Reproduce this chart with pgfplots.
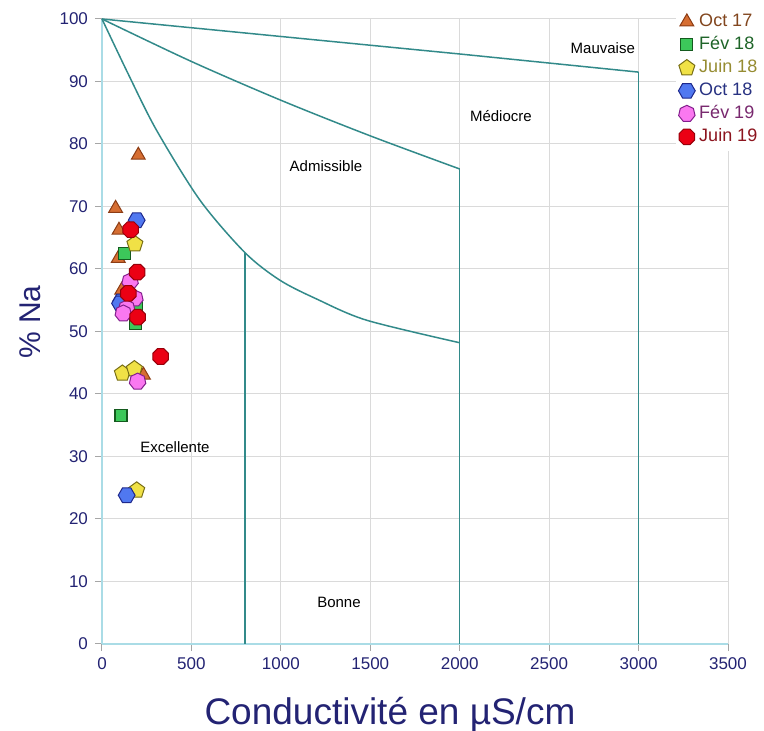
\documentclass[border=0pt]{standalone}
\usepackage{fontspec}
\setmainfont{Liberation Sans}
\usepackage{pgfplots}
\pgfplotsset{compat=1.18}

\definecolor{navy}{RGB}{35,35,115}
\definecolor{bord}{RGB}{50,138,138}
\definecolor{gridc}{RGB}{218,218,218}
\definecolor{axc}{RGB}{170,220,230}
\definecolor{oaF}{RGB}{214,110,50}  \definecolor{oaD}{RGB}{140,60,20}  \definecolor{oaT}{RGB}{130,70,30}
\definecolor{fbF}{RGB}{60,200,90}   \definecolor{fbD}{RGB}{20,90,30}   \definecolor{fbT}{RGB}{30,100,40}
\definecolor{jbF}{RGB}{240,225,70}  \definecolor{jbD}{RGB}{120,110,20} \definecolor{jbT}{RGB}{150,140,50}
\definecolor{obF}{RGB}{80,120,240}  \definecolor{obD}{RGB}{30,40,140}  \definecolor{obT}{RGB}{40,50,130}
\definecolor{fcF}{RGB}{250,120,240} \definecolor{fcD}{RGB}{130,30,140} \definecolor{fcT}{RGB}{120,40,110}
\definecolor{jcF}{RGB}{235,0,20}    \definecolor{jcD}{RGB}{150,0,10}   \definecolor{jcT}{RGB}{140,20,30}

% extra marks
\pgfdeclareplotmark{hexagon*}{%
  \pgfpathmoveto{\pgfpointpolar{0}{\pgfplotmarksize}}%
  \pgfpathlineto{\pgfpointpolar{60}{\pgfplotmarksize}}%
  \pgfpathlineto{\pgfpointpolar{120}{\pgfplotmarksize}}%
  \pgfpathlineto{\pgfpointpolar{180}{\pgfplotmarksize}}%
  \pgfpathlineto{\pgfpointpolar{240}{\pgfplotmarksize}}%
  \pgfpathlineto{\pgfpointpolar{300}{\pgfplotmarksize}}%
  \pgfpathclose\pgfusepathqfillstroke}
\pgfdeclareplotmark{heptagon*}{%
  \pgfpathmoveto{\pgfpointpolar{90}{\pgfplotmarksize}}%
  \pgfpathlineto{\pgfpointpolar{141.43}{\pgfplotmarksize}}%
  \pgfpathlineto{\pgfpointpolar{192.86}{\pgfplotmarksize}}%
  \pgfpathlineto{\pgfpointpolar{244.29}{\pgfplotmarksize}}%
  \pgfpathlineto{\pgfpointpolar{295.71}{\pgfplotmarksize}}%
  \pgfpathlineto{\pgfpointpolar{347.14}{\pgfplotmarksize}}%
  \pgfpathlineto{\pgfpointpolar{38.57}{\pgfplotmarksize}}%
  \pgfpathclose\pgfusepathqfillstroke}
\pgfdeclareplotmark{octagon*}{%
  \pgfpathmoveto{\pgfpointpolar{22.5}{\pgfplotmarksize}}%
  \pgfpathlineto{\pgfpointpolar{67.5}{\pgfplotmarksize}}%
  \pgfpathlineto{\pgfpointpolar{112.5}{\pgfplotmarksize}}%
  \pgfpathlineto{\pgfpointpolar{157.5}{\pgfplotmarksize}}%
  \pgfpathlineto{\pgfpointpolar{202.5}{\pgfplotmarksize}}%
  \pgfpathlineto{\pgfpointpolar{247.5}{\pgfplotmarksize}}%
  \pgfpathlineto{\pgfpointpolar{292.5}{\pgfplotmarksize}}%
  \pgfpathlineto{\pgfpointpolar{337.5}{\pgfplotmarksize}}%
  \pgfpathclose\pgfusepathqfillstroke}

\begin{document}
\begin{tikzpicture}
\useasboundingbox (-51pt,-43.5pt) rectangle (331pt,322pt);
\begin{axis}[
    scale only axis,
    width=313pt, height=312.5pt,
    xmin=0, xmax=3500, ymin=0, ymax=100,
    xtick={0,500,...,3500}, ytick={0,10,...,100},
    axis lines=left,
    axis line style={draw=axc, line width=0.8pt, -},
    grid=major,
    major grid style={draw=gridc, line width=0.5pt},
    tick align=outside,
    major tick length=3.5pt,
    tick style={draw=gray!70, line width=0.5pt},
    /pgf/number format/assume math mode=true,
    /pgf/number format/1000 sep={},
    ticklabel style={font=\fontsize{8.5}{10}\selectfont, text=navy},
    xlabel={Conductivité en µS/cm},
    ylabel={\% Na},
    xlabel style={font=\fontsize{18.5}{20}\selectfont, text=navy,
        at={(axis description cs:0.46,-0.1136)}, anchor=center},
    ylabel style={font=\fontsize{15}{17}\selectfont, text=navy,
        at={(axis description cs:-0.115,0.515)}, anchor=center},
    clip=false,
    legend style={at={(axis description cs:0.917,1.018)}, anchor=north west,
        draw=none, fill=white, font=\fontsize{9}{10.8}\selectfont,
        inner sep=1pt, row sep=-0.5pt},
    legend cell align=left,
]
% limites du diagramme
\addplot[bord, line width=0.75pt, smooth, forget plot] coordinates {
  (0,100)(150,91)(305,82.2)(548,71)(800,62.6)(995,58.2)(1200,55.2)(1480,51.8)(2000,48.2)};
\addplot[bord, line width=0.75pt, smooth, forget plot] coordinates {
  (0,100)(500,93.2)(1000,87)(1500,81.3)(2000,76)};
\addplot[bord, line width=0.75pt, forget plot] coordinates {
  (0,100)(1000,97.2)(2000,94.4)(3000,91.5)};
\addplot[bord, line width=0.75pt, forget plot] coordinates {(800,62.6)(800,0)};
\addplot[bord, line width=0.75pt, forget plot] coordinates {(2000,76)(2000,0)};
\addplot[bord, line width=0.75pt, forget plot] coordinates {(3000,91.5)(3000,0)};

\node[font=\fontsize{7.5}{9}\selectfont] at (axis cs:2800,95.4) {Mauvaise};
\node[font=\fontsize{7.5}{9}\selectfont] at (axis cs:2230,84.5) {Médiocre};
\node[font=\fontsize{7.5}{9}\selectfont] at (axis cs:1252,76.5) {Admissible};
\node[font=\fontsize{7.5}{9}\selectfont] at (axis cs:408,31.5) {Excellente};
\node[font=\fontsize{7.5}{9}\selectfont] at (axis cs:1325,6.6) {Bonne};

% Oct 17
\addplot[only marks, mark=triangle*, mark size=4pt, mark options={fill=oaF, draw=oaD, line width=0.5pt}]
  coordinates {(203,78.2)(76,69.7)(95,66.2)(91,61.7)(110,56.6)(232,43)};
\addlegendentry{\textcolor{oaT}{Oct 17}}
% Fév 18
\addplot[only marks, mark=square*, mark size=3pt, mark options={fill=fbF, draw=fbD, line width=0.6pt}]
  coordinates {(125,62.5)(194,53.8)(188,51.3)(106,36.6)};
\addlegendentry{\textcolor{fbT}{Fév 18}}
% Juin 18
\addplot[only marks, mark=pentagon*, mark size=4.2pt, mark options={fill=jbF, draw=jbD, line width=0.5pt}]
  coordinates {(184,64)(114,43.3)(181,44)(194,24.6)};
\addlegendentry{\textcolor{jbT}{Juin 18}}
% Oct 18
\addplot[only marks, mark=hexagon*, mark size=4.2pt, mark options={fill=obF, draw=obD, line width=0.5pt}]
  coordinates {(194,67.8)(106,54.8)(101,54.5)(138,23.8)};
\addlegendentry{\textcolor{obT}{Oct 18}}
% Fév 19
\addplot[only marks, mark=heptagon*, mark size=4.2pt, mark options={fill=fcF, draw=fcD, line width=0.5pt}]
  coordinates {(157,58)(184,55.3)(138,53.7)(119,52.9)(199,42)};
\addlegendentry{\textcolor{fcT}{Fév 19}}
% Juin 19
\addplot[only marks, mark=octagon*, mark size=4.2pt, mark options={fill=jcF, draw=jcD, line width=0.5pt}]
  coordinates {(160,66.3)(197,59.5)(147,56.1)(199,52.3)(328,46)};
\addlegendentry{\textcolor{jcT}{Juin 19}}
\end{axis}
\end{tikzpicture}
\end{document}
